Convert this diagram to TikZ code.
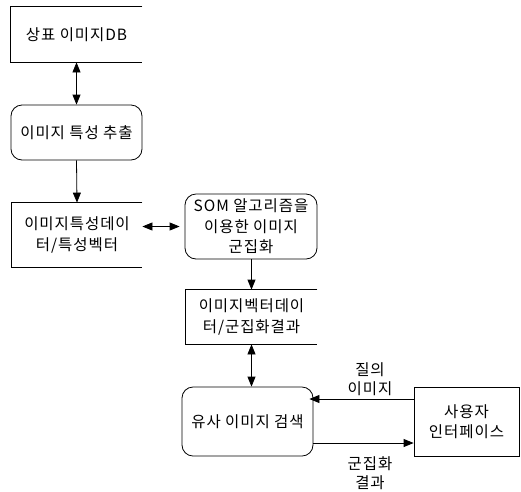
\documentclass[tikz,border=0pt]{standalone}
\usepackage{fontspec}
\setmainfont{Noto Sans CJK KR}[LetterSpace=6]
\usetikzlibrary{arrows.meta}
\begin{document}
\begin{tikzpicture}[x=1pt,y=-1pt,line width=0.8pt,
  txt/.style={font=\fontsize{15.5}{20.5}\selectfont,align=center,inner sep=0pt},
  store/.style={txt,minimum width=131pt,minimum height=55pt},
  proc/.style={txt,draw,rounded corners=11pt,minimum width=131pt,minimum height=55pt},
  ent/.style={txt,draw,minimum width=105pt,minimum height=69pt},
  arr/.style={-{Triangle[length=10pt,width=8pt]}},
  darr/.style={{Triangle[length=10pt,width=8pt]}-{Triangle[length=10pt,width=8pt]}},
  lbl/.style={font=\fontsize{15.5}{19}\selectfont,align=center,inner sep=0pt}]
\useasboundingbox (0,0) rectangle (521,491);
\node[store] (db) at (76.5,34.5) {상표 이미지DB};
\draw (db.north east) -- (db.north west) -- (db.south west) -- (db.south east);
\node[proc] (ext) at (76.5,132.5) {이미지 특성 추출};
\node[store,minimum width=130pt,minimum height=64pt] (feat) at (77,235) {이미지특성데이\\터/특성벡터};
\draw (feat.north east) -- (feat.north west) -- (feat.south west) -- (feat.south east);
\node[proc,minimum width=132pt,minimum height=65pt] (som) at (251,226.5) {SOM 알고리즘을\\이용한 이미지\\군집화};
\node[store,minimum height=54pt] (vec) at (251.5,317) {이미지벡터데이\\터/군집화결과};
\draw (vec.north east) -- (vec.north west) -- (vec.south west) -- (vec.south east);
\node[proc,minimum height=69pt] (search) at (247.5,421.5) {유사 이미지 검색};
\node[ent] (ui) at (466.5,421.5) {사용자\\인터페이스};
\draw[darr] (db.south) -- (ext.north);
\draw[arr] (ext.south) -- (feat.north);
\draw[darr,shorten >=5pt] (som.west -| feat.east) -- (som.west);
\draw[arr] (som.south -| vec.north) -- (vec.north);
\draw[darr] (vec.south) -- (vec.south |- search.north);
\draw[arr,shorten >=-4pt] ([yshift=22.5pt]ui.west) -- ([yshift=22.5pt]ui.west -| search.east);
\draw[arr] ([yshift=-21.5pt]search.east) -- ([yshift=-21.5pt]search.east -| ui.west);
\node[lbl] (q) at (370,379) {질의\\이미지};
\node[lbl] (r) at (370,473) {군집화\\결과};
\end{tikzpicture}
\end{document}
